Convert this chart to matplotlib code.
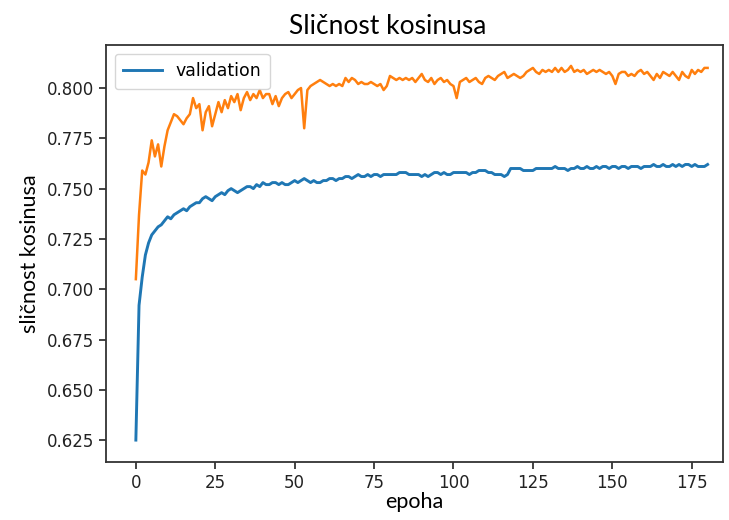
import matplotlib
matplotlib.use("Agg")
import matplotlib.pyplot as plt

epochs = list(range(181))

train_sim = [
    0.705, 0.737, 0.759, 0.757, 0.763, 0.774, 0.766, 0.772, 0.761, 0.771,
    0.779, 0.783, 0.787, 0.786, 0.784, 0.782, 0.785, 0.787, 0.795, 0.790,
    0.792, 0.779, 0.788, 0.791, 0.781, 0.787, 0.793, 0.788, 0.794, 0.790,
    0.796, 0.793, 0.797, 0.789, 0.795, 0.798, 0.794, 0.797, 0.795, 0.799,
    0.795, 0.797, 0.797, 0.792, 0.796, 0.791, 0.795, 0.797, 0.798, 0.795,
    0.797, 0.799, 0.800, 0.780, 0.799, 0.801, 0.802, 0.803, 0.804, 0.803,
    0.802, 0.801, 0.802, 0.801, 0.802, 0.801, 0.805, 0.803, 0.805, 0.804,
    0.802, 0.803, 0.802, 0.802, 0.803, 0.802, 0.801, 0.802, 0.799, 0.801,
    0.806, 0.805, 0.804, 0.805, 0.804, 0.805, 0.804, 0.805, 0.803, 0.805,
    0.807, 0.804, 0.803, 0.805, 0.802, 0.804, 0.805, 0.803, 0.804, 0.802,
    0.801, 0.795, 0.803, 0.804, 0.805, 0.803, 0.804, 0.805, 0.803, 0.802,
    0.805, 0.806, 0.805, 0.804, 0.806, 0.807, 0.808, 0.805, 0.806, 0.807,
    0.806, 0.805, 0.806, 0.808, 0.809, 0.810, 0.808, 0.807, 0.809, 0.808,
    0.809, 0.808, 0.810, 0.808, 0.810, 0.808, 0.809, 0.811, 0.808, 0.809,
    0.808, 0.809, 0.807, 0.808, 0.809, 0.808, 0.809, 0.808, 0.807, 0.808,
    0.806, 0.802, 0.807, 0.808, 0.808, 0.806, 0.807, 0.806, 0.808, 0.809,
    0.807, 0.808, 0.806, 0.804, 0.807, 0.805, 0.808, 0.807, 0.806, 0.808,
    0.806, 0.804, 0.808, 0.806, 0.805, 0.809, 0.807, 0.809, 0.808, 0.810,
    0.810,
]

val_sim = [
    0.625, 0.692, 0.706, 0.717, 0.723, 0.727, 0.729, 0.731, 0.732, 0.734,
    0.736, 0.735, 0.737, 0.738, 0.739, 0.740, 0.739, 0.741, 0.742, 0.743,
    0.743, 0.745, 0.746, 0.745, 0.744, 0.746, 0.747, 0.748, 0.747, 0.749,
    0.750, 0.749, 0.748, 0.749, 0.750, 0.751, 0.751, 0.750, 0.752, 0.751,
    0.753, 0.752, 0.752, 0.753, 0.753, 0.752, 0.753, 0.752, 0.752, 0.753,
    0.754, 0.753, 0.754, 0.755, 0.754, 0.753, 0.754, 0.753, 0.753, 0.754,
    0.754, 0.755, 0.755, 0.754, 0.755, 0.755, 0.756, 0.756, 0.755, 0.756,
    0.757, 0.756, 0.756, 0.757, 0.756, 0.757, 0.757, 0.756, 0.757, 0.757,
    0.757, 0.757, 0.757, 0.758, 0.758, 0.758, 0.757, 0.757, 0.757, 0.757,
    0.756, 0.757, 0.756, 0.757, 0.758, 0.758, 0.757, 0.758, 0.757, 0.757,
    0.758, 0.758, 0.758, 0.758, 0.758, 0.757, 0.758, 0.758, 0.759, 0.759,
    0.759, 0.758, 0.758, 0.757, 0.757, 0.757, 0.756, 0.757, 0.760, 0.760,
    0.760, 0.760, 0.759, 0.759, 0.759, 0.759, 0.760, 0.760, 0.760, 0.760,
    0.760, 0.760, 0.761, 0.760, 0.760, 0.760, 0.759, 0.760, 0.760, 0.761,
    0.760, 0.760, 0.761, 0.760, 0.760, 0.761, 0.760, 0.761, 0.761, 0.760,
    0.761, 0.761, 0.760, 0.761, 0.761, 0.760, 0.761, 0.761, 0.761, 0.760,
    0.761, 0.761, 0.761, 0.762, 0.761, 0.761, 0.762, 0.761, 0.761, 0.762,
    0.761, 0.762, 0.761, 0.762, 0.762, 0.761, 0.762, 0.761, 0.761, 0.761,
    0.762,
]

xticks = [0, 25, 50, 75, 100, 125, 150, 175]
yticks = [0.625, 0.650, 0.675, 0.700, 0.725, 0.750, 0.775, 0.800]

title_text = "Sličnost kosinusa"
xlabel_text = "epoha"
ylabel_text = "sličnost kosinusa"
legend_labels = ["validation"]

fig = plt.figure(figsize=(7.29, 5.20), dpi=100)
ax = fig.add_axes([0.1454, 0.1115, 0.8466, 0.802])

ax.plot(epochs, val_sim, color="#1f77b4", lw=2.1, label=legend_labels[0])
ax.plot(epochs, train_sim, color="#ff7f0e", lw=1.8)

ax.set_xlim(-9.4, 184.9)
ax.set_ylim(0.6141, 0.8214)
ax.set_xticks(xticks)
ax.set_yticks(yticks)
ax.set_yticklabels([f"{v:.3f}" for v in yticks])
ax.tick_params(labelsize=12, length=5, width=1.2, colors="#222222")
for s in ax.spines.values():
    s.set_linewidth(1.3)
    s.set_color("#333333")

label_font = ["Lato", "DejaVu Sans"]
ax.set_title(title_text, fontsize=19, family=label_font, pad=8, x=0.457)
ax.set_xlabel(xlabel_text, fontsize=15.5, family=label_font, labelpad=0)
ax.set_ylabel(ylabel_text, fontsize=15.5, family=label_font, labelpad=5)

ax.legend(loc="upper left", fontsize=12.5, handlelength=2.2, borderpad=0.5)

fig.savefig("out.png", dpi=100)
